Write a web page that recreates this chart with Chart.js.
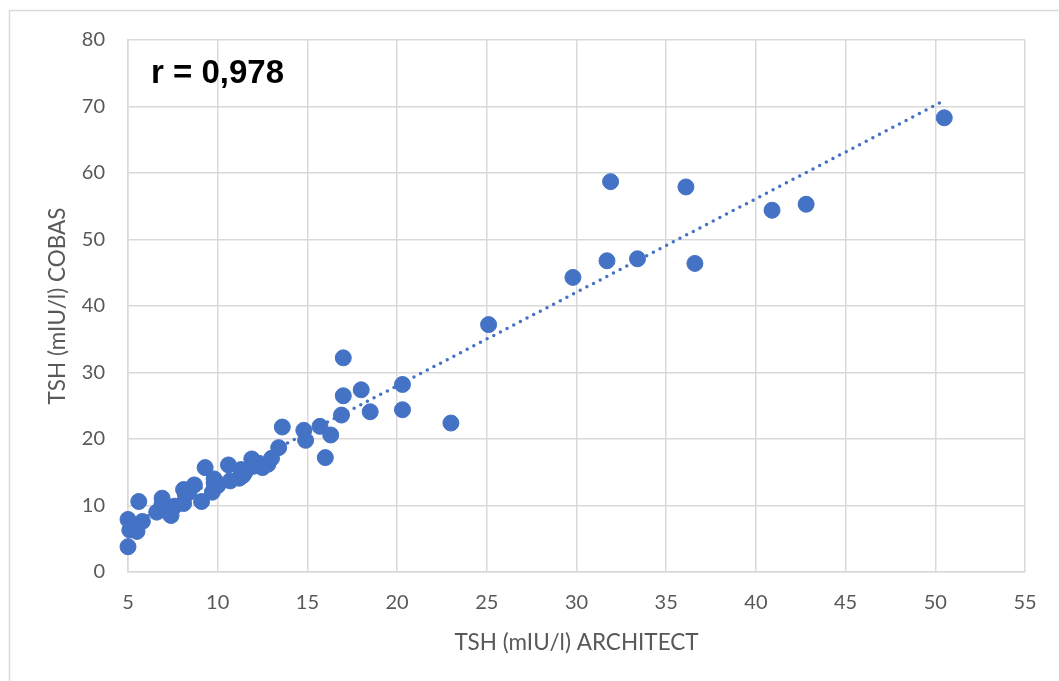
<!DOCTYPE html>
<html>
<head>
<meta charset="utf-8">
<script src="https://cdn.jsdelivr.net/npm/chart.js@4.4.1/dist/chart.umd.min.js"></script>
<style>
  html, body { margin: 0; padding: 0; background: #fff; }
  #wrap { width: 1059px; height: 681px; position: relative; }
</style>
</head>
<body>
<div id="wrap"><canvas id="scatterChart" width="1059" height="681"></canvas></div>
<script>
// TSH ARCHITECT (x) vs COBAS (y)
const architect = [5.0, 5.0, 5.1, 5.5, 5.6, 5.8, 5.4, 6.6, 6.9, 6.9, 7.2, 7.4, 7.4, 7.6, 7.3,
  8.1, 8.1, 8.2, 8.4, 8.7, 9.1, 9.3, 9.7, 9.8, 9.8, 10.0, 10.6, 10.7, 11.2, 11.3, 11.4, 11.5,
  11.9, 12.0, 12.3, 12.5, 12.8, 13.0, 13.4, 13.6, 14.8, 14.9, 15.7, 16.0, 16.3, 16.9, 17.0,
  17.0, 18.0, 18.5, 20.3, 20.3, 23.0, 25.1, 29.8, 31.7, 31.9, 33.4, 36.1, 36.6, 40.9, 42.8, 50.5];
const cobas = [3.8, 7.9, 6.3, 6.1, 10.6, 7.6, 7.0, 9.0, 11.1, 10.3, 9.4, 8.5, 9.7, 9.9, 8.8,
  10.3, 12.4, 11.6, 12.0, 13.1, 10.6, 15.7, 12.0, 13.4, 14.0, 13.0, 16.1, 13.7, 14.1, 15.4, 14.5, 14.9,
  17.0, 15.9, 16.3, 15.7, 16.2, 17.1, 18.7, 21.8, 21.3, 19.8, 21.9, 17.2, 20.6, 23.6, 26.5,
  32.2, 27.4, 24.1, 28.2, 24.4, 22.4, 37.2, 44.3, 46.8, 58.7, 47.1, 57.9, 46.4, 54.4, 55.3, 68.3];

// linear trendline ends as drawn
const trendX = [5.0, 50.5];
const trendY = [6.9, 70.9];

const xTicks = [5, 10, 15, 20, 25, 30, 35, 40, 45, 50, 55];
const yTicks = [0, 10, 20, 30, 40, 50, 60, 70, 80];

const rLabel = 'r = 0,978';

const pts = architect.map((x, i) => ({ x: x, y: cobas[i] }));
const trend = trendX.map((x, i) => ({ x: x, y: trendY[i] }));

const blue = '#4472C4';
const tickGray = '#595959';
const gridGray = '#d9d9d9';
const font = "Lato, 'Open Sans', sans-serif";

// frame and r label
const extras = {
  id: 'extras',
  beforeDraw(chart) {
    const ctx = chart.ctx;
    ctx.save();
    ctx.strokeStyle = '#d9d9d9';
    ctx.lineWidth = 1.5;
    ctx.strokeRect(9.5, 10.5, 1200, 800);
    ctx.restore();
  },
  afterDraw(chart) {
    const ctx = chart.ctx;
    const a = chart.chartArea;
    ctx.save();
    ctx.fillStyle = '#000';
    ctx.font = "bold 33px 'Liberation Sans', Arial, sans-serif";
    ctx.textBaseline = 'alphabetic';
    ctx.fillText(rLabel, a.left + 23, a.top + 43);
    ctx.restore();
  }
};

new Chart(document.getElementById('scatterChart').getContext('2d'), {
  type: 'scatter',
  data: {
    datasets: [{
      label: 'COBAS',
      data: pts,
      backgroundColor: blue,
      borderColor: blue,
      pointRadius: 8,
      pointHoverRadius: 8,
      clip: false,
      order: 2
    }, {
      label: 'Trend',
      type: 'line',
      data: trend,
      showLine: true,
      borderColor: blue,
      borderWidth: 3.5,
      borderDash: [0, 7.5],
      borderCapStyle: 'round',
      pointRadius: 0,
      fill: false,
      order: 1
    }]
  },
  plugins: [extras],
  options: {
    responsive: false,
    animation: false,
    events: [],
    layout: { padding: { left: 0, top: 40, right: 34, bottom: 0 } },
    plugins: {
      legend: { display: false },
      tooltip: { enabled: false }
    },
    scales: {
      x: {
        type: 'linear',
        min: 5,
        max: 55,
        afterBuildTicks: s => { s.ticks = xTicks.map(v => ({ value: v })); },
        afterFit: s => { s.height = 109; },
        grid: { color: gridGray, lineWidth: 1.5, drawTicks: false },
        border: { color: gridGray, width: 1.5 },
        ticks: { color: tickGray, padding: 19, font: { family: font, size: 20 } },
        title: {
          display: true,
          text: 'TSH (mIU/l) ARCHITECT',
          color: tickGray,
          font: { family: font, size: 22.5 },
          padding: { top: 0, bottom: 25 }
        }
      },
      y: {
        type: 'linear',
        min: 0,
        max: 80,
        afterBuildTicks: s => { s.ticks = yTicks.map(v => ({ value: v })); },
        afterFit: s => { s.width = 128; },
        grid: { color: gridGray, lineWidth: 1.5, drawTicks: false },
        border: { color: gridGray, width: 1.5 },
        ticks: { color: tickGray, padding: 23, font: { family: font, size: 20 } },
        title: {
          display: true,
          text: 'TSH (mIU/l) COBAS',
          color: tickGray,
          font: { family: font, size: 22.5 },
          padding: { top: 44, bottom: 0 }
        }
      }
    }
  }
});
</script>
</body>
</html>
